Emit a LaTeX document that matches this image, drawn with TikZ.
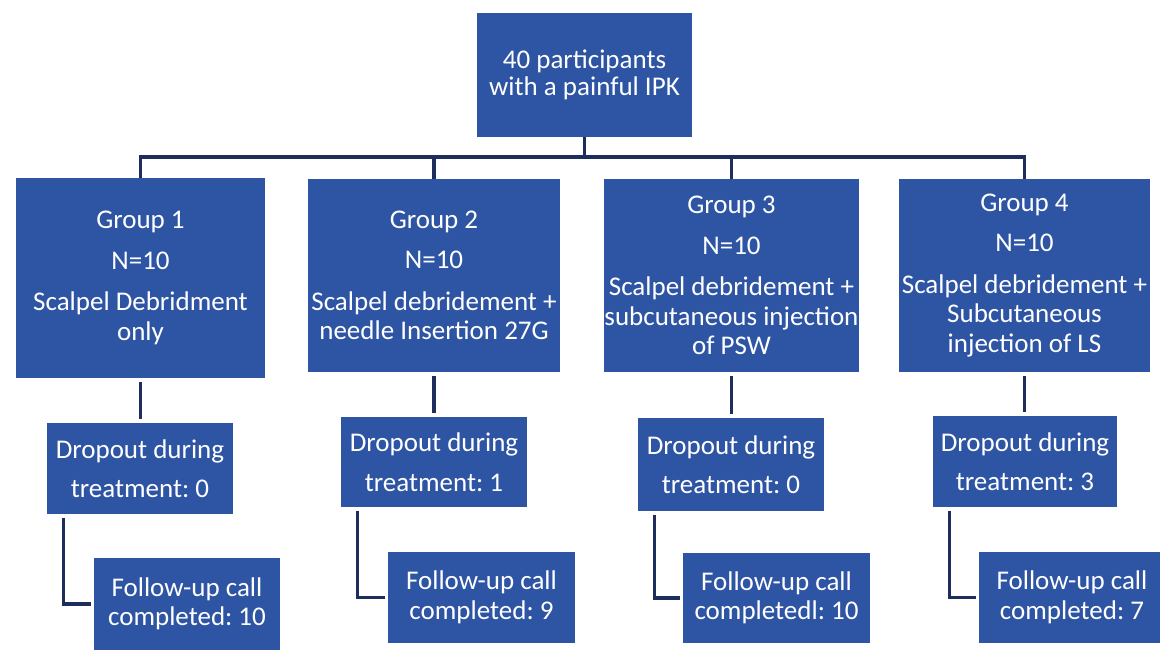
\documentclass[tikz,border=0pt]{standalone}
\usepackage{fontspec}
\setmainfont{Carlito}
\usetikzlibrary{calc}
\definecolor{boxblue}{RGB}{46,84,164}
\definecolor{linenavy}{RGB}{30,46,92}
\frenchspacing
\begin{document}
\begin{tikzpicture}[x=1pt,y=-1pt,
  box/.style={draw=none, fill=boxblue, text=white, align=center, inner sep=0pt,
              font=\fontsize{27}{29.5}\selectfont},
  conn/.style={draw=linenavy, line width=3.2pt}]
\useasboundingbox (0,0) rectangle (1160,652);
\fill[white] (0,0) rectangle (1160,652);

\node[box, minimum width=215pt, minimum height=124pt, font=\fontsize{27}{27}\selectfont]
  (top) at (584.5,75) {40 participants\\with a painful IPK};

\node[box, minimum width=249pt, minimum height=200pt] (g1) at (140.5,278)
  {Group 1\\[11pt]N=10\\[12pt]Scalpel Debridment\\only};
\node[box, minimum width=252pt, minimum height=193pt] (g2) at (434,275.5)
  {Group 2\\[11pt]N=10\\[12pt]Scalpel debridement +\\needle Insertion 27G};
\node[box, minimum width=251pt, minimum height=193pt] (g3) at (731.5,275.5)
  {Group 3\\[11pt]N=10\\[12pt]Scalpel debridement +\\subcutaneous injection\\of PSW};
\node[box, minimum width=251pt, minimum height=193pt] (g4) at (1024.5,275.5)
  {Group 4\\[11pt]N=10\\[12pt]Scalpel debridement +\\Subcutaneous\\injection of LS};

\node[box, minimum width=186pt, minimum height=91pt] (d1) at (140,468.5)
  {Dropout during\\[10pt]treatment: 0};
\node[box, minimum width=186pt, minimum height=90pt] (d2) at (434,462)
  {Dropout during\\[10pt]treatment: 1};
\node[box, minimum width=186pt, minimum height=93pt] (d3) at (731,464.5)
  {Dropout during\\[10pt]treatment: 0};
\node[box, minimum width=184pt, minimum height=91pt] (d4) at (1025,461.5)
  {Dropout during\\[10pt]treatment: 3};

\node[box, minimum width=186pt, minimum height=92pt] (f1) at (187,604)
  {Follow-up call\\completed: 10};
\node[box, minimum width=187pt, minimum height=91pt] (f2) at (481.5,597.5)
  {Follow-up call\\completed: 9};
\node[box, minimum width=187pt, minimum height=90pt] (f3) at (776.5,598)
  {Follow-up call\\completedl: 10};
\node[box, minimum width=186pt, minimum height=91pt] (f4) at (1072,597.5)
  {Follow-up call\\completed: 7};

\coordinate (bus) at (584.5,157);
\draw[conn] (top.south) -- (bus);
\draw[conn] (g1.north) -- (g1.north |- bus) -- (g4.north |- bus) -- (g4.north);
\draw[conn] (g2.north) -- (g2.north |- bus);
\draw[conn] (g3.north) -- (g3.north |- bus);

\foreach \i in {1,2,3,4}{
  \draw[conn, shorten <=4pt, shorten >=4pt] (g\i.south) -- (g\i.south |- d\i.north);
  \draw[conn, shorten <=4pt, shorten >=3pt] ($(d\i.south west)+(16.5,0)$) |- (f\i.west);
}
\end{tikzpicture}
\end{document}
